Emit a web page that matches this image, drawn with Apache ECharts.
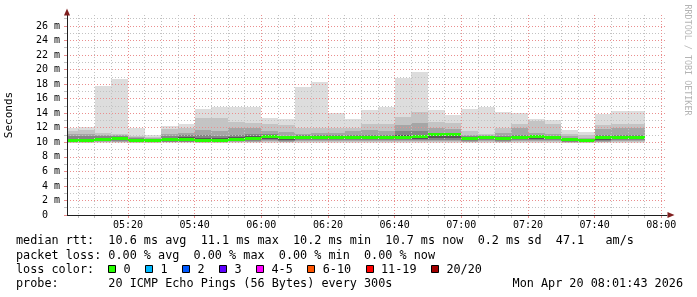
<!DOCTYPE html>
<html><head><meta charset="utf-8">
<script src="https://cdn.jsdelivr.net/npm/echarts@6/dist/echarts.min.js"></script>
<style>html,body{margin:0;padding:0;background:#fff}#c{width:697px;height:297px}</style>
</head><body><div id="c"></div>
<script>
// ---- data (milliseconds) ----
const binStarts = ['05:00','05:05','05:10','05:15','05:20','05:25','05:30','05:35','05:40','05:45',
  '05:50','05:55','06:00','06:05','06:10','06:15','06:20','06:25','06:30','06:35',
  '06:40','06:45','06:50','06:55','07:00','07:05','07:10','07:15','07:20','07:25',
  '07:30','07:35','07:40','07:45','07:50'];
const rttMedian = [10.25,10.25,10.45,10.55,10.27,10.22,10.43,10.43,10.25,10.22,10.45,10.57,10.82,10.59,10.7,10.7,10.7,10.65,10.64,10.64,10.72,10.75,11.08,11.05,10.5,10.69,10.57,10.7,10.8,10.66,10.41,10.29,10.6,10.65,10.68];
const rttMax = [11.9,12.1,17.7,18.7,11.95,10.95,12.3,12.5,14.6,14.9,14.8,14.8,13.4,13.2,17.65,18.3,14.0,13.2,14.4,14.8,18.9,19.6,14.4,13.7,14.6,14.8,14.2,14.0,13.2,13.0,11.7,11.4,13.9,14.3,14.3];
const rttHi2 = [11.55,11.7,11.3,11.2,10.9,10.7,11.8,11.9,13.3,13.4,12.8,12.6,12.5,12.4,11.9,11.9,11.9,12.0,12.5,12.5,13.5,14.1,12.8,12.6,11.5,11.1,12.0,12.5,12.9,12.5,11.2,11.0,12.4,12.5,12.5];
const rttHi3 = [11.1,11.15,11.0,11.0,10.7,10.55,11.2,11.3,11.7,11.5,11.9,11.9,11.5,11.45,11.2,11.3,11.3,11.5,11.7,11.6,12.4,12.6,11.9,11.8,11.0,11.0,11.3,11.9,11.3,11.2,10.8,10.6,11.8,11.9,11.9];
const rttHi4 = [10.8,10.8,10.8,10.8,10.55,10.45,10.9,10.95,11.0,10.9,11.0,11.1,11.1,10.9,11.0,11.0,11.0,11.0,11.0,11.0,11.5,11.5,11.3,11.3,10.8,10.9,10.85,11.0,11.0,10.9,10.6,10.5,10.95,11.0,11.0];
const rttHi5 = [10.5,10.5,10.65,10.7,10.45,10.38,10.65,10.7,10.6,10.55,10.7,10.8,11.0,10.75,10.85,10.85,10.85,10.85,10.85,10.85,11.0,11.0,11.25,11.25,10.7,10.8,10.75,10.85,10.95,10.8,10.55,10.4,10.8,10.8,10.8];
const rttMin = [9.86,9.86,9.9,9.95,9.9,9.9,9.95,9.95,9.9,9.9,9.95,9.95,9.95,9.95,9.95,9.95,9.95,9.95,9.95,9.95,9.95,9.95,9.95,9.95,9.9,9.95,9.9,9.95,9.95,9.9,9.9,9.9,9.95,9.95,9.95];
const rttLo2 = [9.95,9.95,10.0,10.0,9.95,9.95,10.0,10.0,9.95,9.95,10.0,10.0,10.05,10.0,10.05,10.05,10.05,10.05,10.05,10.05,10.05,10.05,10.1,10.1,10.0,10.05,10.0,10.05,10.05,10.05,9.95,9.95,10.0,10.05,10.05];
const rttLo3 = [10.0,10.0,10.05,10.1,10.0,10.0,10.05,10.05,10.0,10.0,10.05,10.1,10.2,10.1,10.15,10.15,10.15,10.15,10.15,10.15,10.2,10.2,10.2,10.2,10.1,10.15,10.1,10.15,10.2,10.15,10.05,10.0,10.1,10.15,10.15];
const rttLo4 = [10.05,10.05,10.15,10.2,10.05,10.03,10.1,10.1,10.05,10.05,10.15,10.2,10.35,10.2,10.3,10.3,10.3,10.25,10.25,10.25,10.3,10.3,10.35,10.35,10.2,10.25,10.2,10.3,10.35,10.25,10.1,10.05,10.2,10.25,10.25];
const rttLo5 = [10.1,10.1,10.25,10.3,10.1,10.08,10.2,10.2,10.1,10.08,10.25,10.3,10.5,10.35,10.4,10.4,10.4,10.4,10.4,10.4,10.45,10.5,10.6,10.6,10.3,10.4,10.3,10.45,10.5,10.4,10.2,10.1,10.35,10.4,10.4];
const xTickLabels = ['05:20','05:40','06:00','06:20','06:40','07:00','07:20','07:40','08:00'];
const yTickValues = [0,2,4,6,8,10,12,14,16,18,20,22,24,26];
const rangeStart = '05:01:43';
const rangeEnd = '08:01:43';
const binMinutes = 5;
const yMax = 27.5;
const rttStats = ['10.6','11.1','10.2','10.7','0.2','47.1'];
const lossStats = ['0.00','0.00','0.00','0.00'];
const lossLabels = ['0','1','2','3','4-5','6-10','11-19','20/20'];
const lossColors = ['#26ff00','#00b8ff','#0059ff','#5e00ff','#ff00ff','#ff5500','#ff0000','#a10000'];
const probeText = '20 ICMP Echo Pings (56 Bytes) every 300s';
const stampText = 'Mon Apr 20 08:01:43 2026';
const creditText = 'RRDTOOL / TOBI OETIKER';

// ---- helpers ----
function toMin(s){ const p = s.split(':').map(Number); return p[0]*60 + p[1] + (p[2]||0)/60; }
function fmtMin(v){ const h = Math.floor(v/60), m = Math.round(v - h*60); return String(h).padStart(2,'0')+':'+String(m).padStart(2,'0'); }
const xMin = toMin(rangeStart), xMax = toMin(rangeEnd);
const majorX = xTickLabels.map(toMin);
const minorX = [];
for (let t = Math.ceil(xMin/binMinutes)*binMinutes; t <= xMax; t += binMinutes) if (majorX.indexOf(t) < 0) minorX.push(t);
const minorY = [];
for (let v = 1; v <= yMax; v += 2) minorY.push(v);

const MONO = '"DejaVu Sans Mono", monospace';
const GRID_MINOR = '#c2c2c2';
const GRID_MAJOR = '#ea8e8e';
const ARROW = 'rgb(128,31,31)';
const AXIS = 'rgb(31,31,31)';

function clipRect(shape, cs){
  return echarts.graphic.clipRectByRect(shape, {x: cs.x, y: cs.y, width: cs.width, height: cs.height});
}
function smokeSeries(lo, hi, color, z){
  return {
    type: 'custom', xAxisIndex: 0, yAxisIndex: 0, z: z, silent: true, animation: false,
    encode: {x: [0,1], y: [2,3]},
    data: binStarts.map((t,i) => [toMin(t), toMin(t)+binMinutes, lo[i], hi[i]]),
    renderItem(params, api){
      const a = api.coord([api.value(0), api.value(3)]);
      const b = api.coord([api.value(1), api.value(2)]);
      const x0 = Math.round(a[0]), x1 = Math.round(b[0]);
      const y0 = Math.round(a[1]), y1 = Math.round(b[1]);
      const shape = clipRect({x: x0, y: y0, width: x1-x0, height: Math.max(1, y1-y0)}, params.coordSys);
      return shape ? {type: 'rect', shape: shape, style: {fill: color}} : null;
    }
  };
}
const medianSeries = {
  type: 'custom', xAxisIndex: 0, yAxisIndex: 0, z: 2.5, silent: true, animation: false,
  encode: {x: [0,1], y: 2},
  data: binStarts.map((t,i) => [toMin(t), toMin(t)+binMinutes, rttMedian[i]]),
  renderItem(params, api){
    const a = api.coord([api.value(0), api.value(2)]);
    const b = api.coord([api.value(1), api.value(2)]);
    const x0 = Math.round(a[0]), x1 = Math.round(b[0]);
    const shape = clipRect({x: x0, y: Math.round(a[1]-1.5), width: x1-x0, height: 3}, params.coordSys);
    return shape ? {type: 'rect', shape: shape, style: {fill: lossColors[0]}} : null;
  }
};

// ---- text / legend graphics ----
const rowY = [241, 255.5, 269.5, 283.5];
const textX = 16;
function txt(x, y, s, align){
  return {type: 'text', x: x, y: y, silent: true, z: 10,
    style: {text: s, fontFamily: MONO, fontSize: 11.8, fill: '#000', verticalAlign: 'middle', align: align || 'left'}};
}
const row1 = 'median rtt:  ' + rttStats[0] + ' ms avg  ' + rttStats[1] + ' ms max  ' + rttStats[2] + ' ms min  ' + rttStats[3] + ' ms now  ' + rttStats[4] + ' ms sd  ' + rttStats[5] + '   am/s';
const row2 = 'packet loss: ' + lossStats[0] + ' % avg  ' + lossStats[1] + ' % max  ' + lossStats[2] + ' % min  ' + lossStats[3] + ' % now';
const graphics = [
  txt(textX, rowY[0], row1),
  txt(textX, rowY[1], row2),
  txt(textX, rowY[2], 'loss color:'),
  txt(textX, rowY[3], 'probe:       ' + probeText),
  txt(683, rowY[3], stampText, 'right'),
  {type: 'text', x: 687, y: 60, rotation: -Math.PI/2, silent: true,
    style: {text: creditText, fontFamily: MONO, fontSize: 8.4, fill: '#b4b4b4', align: 'center', verticalAlign: 'middle'}}
];
const CH = 7.1;
let lx = 108.5;
lossLabels.forEach((lab, i) => {
  graphics.push({type: 'rect', silent: true, z: 10, shape: {x: Math.floor(lx)+0.5, y: 265.5, width: 7, height: 7},
    style: {fill: lossColors[i], stroke: '#000', lineWidth: 1}});
  graphics.push(txt(lx + 15, rowY[2], lab));
  lx += 29.9 + CH*lab.length;
});

// ---- axes ----
const baseX = {type: 'value', min: xMin, max: xMax, position: 'bottom', gridIndex: 0};
const baseY = {type: 'value', min: 0, max: yMax, position: 'left', gridIndex: 0};
const dotted = c => ({show: true, lineStyle: {color: c, width: 1, type: [1,2], dashOffset: 0}});
const option = {
  backgroundColor: '#ffffff',
  animation: false,
  grid: {left: 67, top: 15, width: 600, height: 200, containLabel: false, outerBoundsMode: 'none'},
  xAxis: [
    Object.assign({}, baseX, {z: 5, axisLine: {show: true, onZero: false, lineStyle: {color: AXIS, width: 1}},
      axisTick: {show: false}, axisLabel: {show: false}, splitLine: {show: false}}),
    Object.assign({}, baseX, {z: 3, axisLine: {show: false, onZero: false},
      axisTick: {show: true, customValues: minorX, length: 3, lineStyle: {color: GRID_MINOR}},
      axisLabel: {show: false},
      splitLine: dotted(GRID_MINOR)}),
    Object.assign({}, baseX, {z: 4, axisLine: {show: false, onZero: false},
      axisTick: {show: true, customValues: majorX, length: 3, lineStyle: {color: GRID_MAJOR}},
      axisLabel: {show: true, customValues: majorX, margin: 5, formatter: v => fmtMin(v),
        fontFamily: MONO, fontSize: 10, color: '#000'},
      splitLine: dotted(GRID_MAJOR)}),
    Object.assign({}, baseX, {z: 6, axisLine: {show: true, onZero: false, symbol: ['none','triangle'], symbolSize: [6,7], symbolOffset: [0,4],
      lineStyle: {color: ARROW, width: 0}}, axisTick: {show: false}, axisLabel: {show: false}, splitLine: {show: false}})
  ],
  yAxis: [
    Object.assign({}, baseY, {z: 5, axisLine: {show: true, onZero: false, lineStyle: {color: AXIS, width: 1}},
      axisTick: {show: true, customValues: yTickValues, length: 3, lineStyle: {color: GRID_MAJOR}},
      axisLabel: {show: true, customValues: yTickValues, margin: 7, fontFamily: MONO, fontSize: 10, color: '#000',
        formatter: v => v === 0 ? '0  ' : v + ' m'},
      splitLine: dotted(GRID_MAJOR),
      name: 'Seconds', nameLocation: 'middle', nameGap: 52, nameRotate: 90,
      nameTextStyle: {fontFamily: MONO, fontSize: 11, color: '#000'}}),
    Object.assign({}, baseY, {z: 3, axisLine: {show: false, onZero: false},
      axisTick: {show: true, customValues: minorY, length: 3, lineStyle: {color: GRID_MINOR}},
      axisLabel: {show: false},
      splitLine: dotted(GRID_MINOR)}),
    Object.assign({}, baseY, {z: 6, axisLine: {show: true, onZero: false, symbol: ['none','triangle'], symbolSize: [6,7], symbolOffset: [0,3],
      lineStyle: {color: ARROW, width: 0}}, axisTick: {show: false}, axisLabel: {show: false}, splitLine: {show: false}})
  ],
  series: [
    smokeSeries(rttMin, rttMax, '#dddddd', 2),
    smokeSeries(rttLo2, rttHi2, '#c4c4c4', 2.1),
    smokeSeries(rttLo3, rttHi3, '#a6a6a6', 2.2),
    smokeSeries(rttLo4, rttHi4, '#858585', 2.3),
    smokeSeries(rttLo5, rttHi5, '#575757', 2.4),
    medianSeries
  ],
  graphic: graphics
};
const chart = echarts.init(document.getElementById('c'), null, {renderer: 'canvas', width: 697, height: 297, devicePixelRatio: 1});
chart.setOption(option);
</script></body></html>
